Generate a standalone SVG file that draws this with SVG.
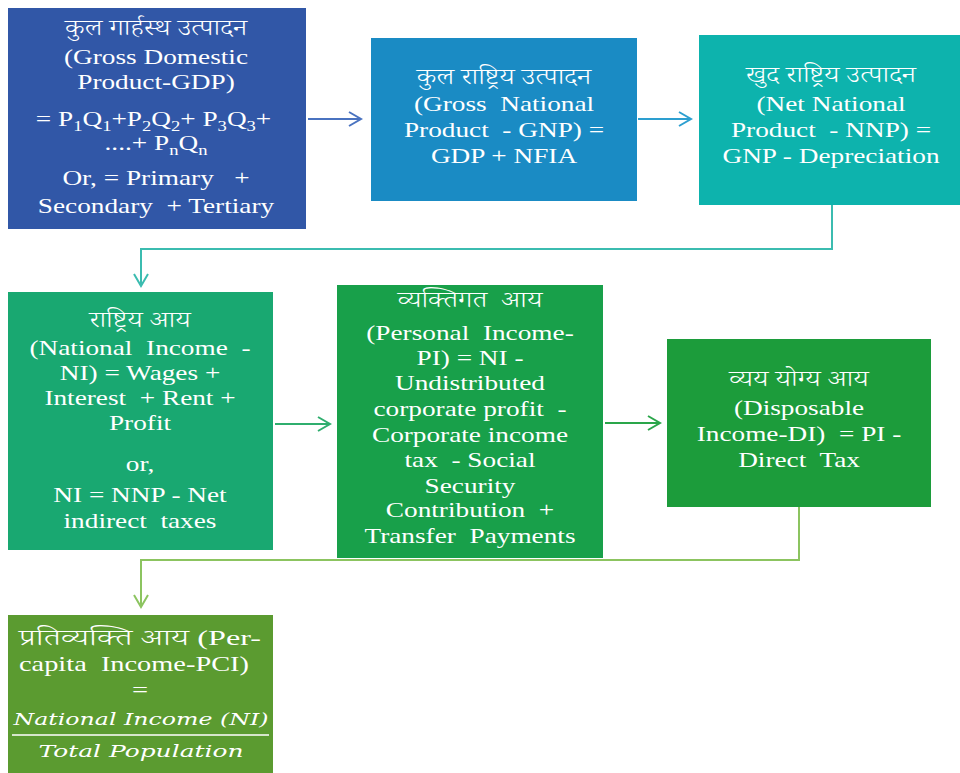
<svg xmlns="http://www.w3.org/2000/svg" width="960" height="773" viewBox="0 0 960 773">
<defs>
<style>
.t{font-family:"Liberation Serif","Times New Roman",serif;font-size:22px;fill:#fff;text-anchor:middle;white-space:pre}
.d{font-family:"Noto Serif Devanagari","Noto Sans Devanagari","Lohit Devanagari","Liberation Serif",serif;font-size:22.5px;font-weight:300;fill:#fff;text-anchor:middle;white-space:pre}
.l{text-anchor:start}
.m{font-family:"DejaVu Serif","Liberation Serif",serif;font-style:italic;font-size:17px;fill:#fff;text-anchor:middle}
.sub{font-size:15px}
.c{fill:none;stroke-width:2}
</style>
<marker id="ab" markerWidth="16" markerHeight="16" refX="14" refY="8" orient="auto" markerUnits="userSpaceOnUse"><path d="M2,1 L14,8 L2,15" fill="none" stroke="#4a73c0" stroke-width="2"/></marker>
<marker id="ab2" markerWidth="16" markerHeight="16" refX="14" refY="8" orient="auto" markerUnits="userSpaceOnUse"><path d="M2,1 L14,8 L2,15" fill="none" stroke="#2d9fd0" stroke-width="2"/></marker>
<marker id="at" markerWidth="16" markerHeight="16" refX="14" refY="8" orient="auto" markerUnits="userSpaceOnUse"><path d="M2,1 L14,8 L2,15" fill="none" stroke="#3bbcb0" stroke-width="2"/></marker>
<marker id="ag" markerWidth="16" markerHeight="16" refX="14" refY="8" orient="auto" markerUnits="userSpaceOnUse"><path d="M2,1 L14,8 L2,15" fill="none" stroke="#2fae6e" stroke-width="2"/></marker>
<marker id="ag2" markerWidth="16" markerHeight="16" refX="14" refY="8" orient="auto" markerUnits="userSpaceOnUse"><path d="M2,1 L14,8 L2,15" fill="none" stroke="#2aa64a" stroke-width="2"/></marker>
<marker id="al" markerWidth="16" markerHeight="16" refX="14" refY="8" orient="auto" markerUnits="userSpaceOnUse"><path d="M2,1 L14,8 L2,15" fill="none" stroke="#8cc460" stroke-width="2"/></marker>
</defs>
<rect width="960" height="773" fill="#fff"/>
<g id="connectors">
<path class="c" d="M308,119 H361" stroke="#4a73c0" marker-end="url(#ab)"/>
<path class="c" d="M638,119 H691" stroke="#2d9fd0" marker-end="url(#ab2)"/>
<path class="c" d="M832,205 V249 H141 V286" stroke="#3bbcb0" marker-end="url(#at)"/>
<path class="c" d="M275,424 H330" stroke="#2fae6e" marker-end="url(#ag)"/>
<path class="c" d="M605,423 H660" stroke="#2aa64a" marker-end="url(#ag2)"/>
<path class="c" d="M799,507 V560 H141 V607" stroke="#8cc460" marker-end="url(#al)"/>
</g>
<g id="gdp">
<rect x="8" y="8" width="298" height="221" fill="#3157a7"/>
<g transform="matrix(1.24,0,0,1,156,0)">
<text class="d" x="0" y="35">कुल गार्हस्थ उत्पादन</text>
<text class="t" x="0" y="64">(Gross Domestic</text>
<text class="t" x="0" y="89">Product-GDP)</text>
<text class="t" x="-2" y="126">= P<tspan class="sub" dy="5">1</tspan><tspan dy="-5">Q</tspan><tspan class="sub" dy="5">1</tspan><tspan dy="-5">+P</tspan><tspan class="sub" dy="5">2</tspan><tspan dy="-5">Q</tspan><tspan class="sub" dy="5">2</tspan><tspan dy="-5">+ P</tspan><tspan class="sub" dy="5">3</tspan><tspan dy="-5">Q</tspan><tspan class="sub" dy="5">3</tspan><tspan dy="-5">+</tspan></text>
<text class="t" x="0" y="150">....+ P<tspan class="sub" dy="5">n</tspan><tspan dy="-5">Q</tspan><tspan class="sub" dy="5">n</tspan></text>
<text class="t" x="0" y="185">Or, = Primary   +</text>
<text class="t" x="0" y="213">Secondary  + Tertiary</text>
</g>
</g>
<g id="gnp">
<rect x="371" y="38" width="266" height="163" fill="#1a8bc4"/>
<g transform="matrix(1.24,0,0,1,504,0)">
<text class="d" x="0" y="84">कुल राष्ट्रिय उत्पादन</text>
<text class="t" x="0" y="111">(Gross  National</text>
<text class="t" x="0" y="137">Product  - GNP) =</text>
<text class="t" x="0" y="163">GDP + NFIA</text>
</g>
</g>
<g id="nnp">
<rect x="699" y="35" width="261" height="170" fill="#0db3ad"/>
<g transform="matrix(1.24,0,0,1,831,0)">
<text class="d" x="0" y="82">खुद राष्ट्रिय उत्पादन</text>
<text class="t" x="0" y="111">(Net National</text>
<text class="t" x="0" y="137">Product  - NNP) =</text>
<text class="t" x="0" y="163">GNP - Depreciation</text>
</g>
</g>
<g id="ni">
<rect x="8" y="292" width="265" height="258" fill="#19a871"/>
<g transform="matrix(1.24,0,0,1,140,0)">
<text class="d" x="0" y="327">राष्ट्रिय आय</text>
<text class="t" x="0" y="355">(National  Income  -</text>
<text class="t" x="0" y="380">NI) = Wages +</text>
<text class="t" x="0" y="405">Interest  + Rent +</text>
<text class="t" x="0" y="430">Profit</text>
<text class="t" x="0" y="471">or,</text>
<text class="t" x="0" y="502">NI = NNP - Net</text>
<text class="t" x="0" y="528">indirect  taxes</text>
</g>
</g>
<g id="pi">
<rect x="337" y="285" width="266" height="273" fill="#18a04a"/>
<g transform="matrix(1.24,0,0,1,470,0)">
<text class="d" x="0" y="307">व्यक्तिगत  आय</text>
<text class="t" x="0" y="340">(Personal  Income-</text>
<text class="t" x="0" y="365">PI) = NI -</text>
<text class="t" x="0" y="390">Undistributed</text>
<text class="t" x="0" y="416">corporate profit  -</text>
<text class="t" x="0" y="442">Corporate income</text>
<text class="t" x="0" y="467">tax  - Social</text>
<text class="t" x="0" y="493">Security</text>
<text class="t" x="0" y="517">Contribution  +</text>
<text class="t" x="0" y="543">Transfer  Payments</text>
</g>
</g>
<g id="di">
<rect x="667" y="339" width="264" height="168" fill="#1c9c3b"/>
<g transform="matrix(1.24,0,0,1,799,0)">
<text class="d" x="0" y="386">व्यय योग्य आय</text>
<text class="t" x="0" y="415">(Disposable</text>
<text class="t" x="0" y="441">Income-DI)  = PI -</text>
<text class="t" x="0" y="467">Direct  Tax</text>
</g>
</g>
<g id="pci">
<rect x="8" y="615" width="265" height="158" fill="#5b9b30"/>
<text class="d l" x="19" y="645" textLength="242" lengthAdjust="spacingAndGlyphs">प्रतिव्यक्ति आय <tspan class="t l">(Per-</tspan></text>
<text class="t l" x="19" y="671" textLength="230" lengthAdjust="spacingAndGlyphs">capita  Income-PCI)</text>
<text class="t" x="140" y="697" transform="matrix(1.3,0,0,1,-42,0)">=</text>
<text class="m" x="141" y="725" textLength="255" lengthAdjust="spacingAndGlyphs">National Income (NI)</text>
<line x1="12" y1="735" x2="269" y2="735" stroke="#fff" stroke-width="1.5"/>
<text class="m" x="141" y="757" textLength="205" lengthAdjust="spacingAndGlyphs">Total Population</text>
</g>
</svg>
